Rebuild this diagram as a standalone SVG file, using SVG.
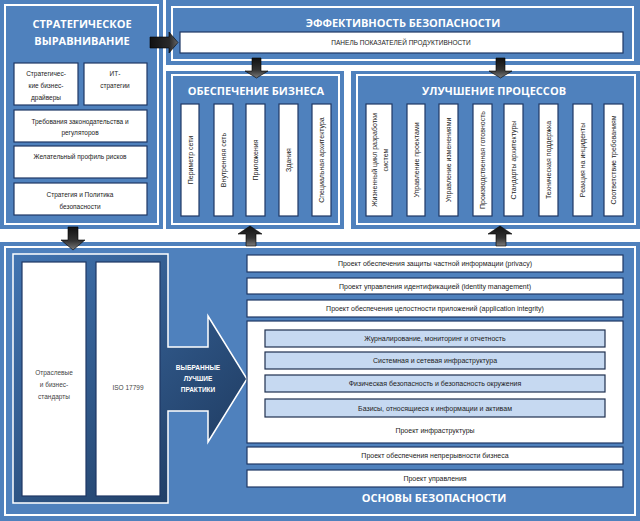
<svg xmlns="http://www.w3.org/2000/svg" width="640" height="521" viewBox="0 0 640 521">
<defs>
<linearGradient id="gArrow" x1="0" y1="0" x2="0" y2="1">
<stop offset="0" stop-color="#111"/><stop offset="0.6" stop-color="#333"/><stop offset="1" stop-color="#7a7a7a"/>
</linearGradient>
<linearGradient id="gArrowH" x1="0" y1="0" x2="1" y2="0">
<stop offset="0" stop-color="#111"/><stop offset="0.7" stop-color="#2a2a2a"/><stop offset="1" stop-color="#666"/>
</linearGradient>
<linearGradient id="gDark" x1="0" y1="0" x2="1" y2="1">
<stop offset="0" stop-color="#4275b2"/><stop offset="1" stop-color="#1b3558"/>
</linearGradient>
<style>
.panel{fill:#4f81bd;}
.inner{fill:none;stroke:#ffffff;stroke-width:2;}
.box{fill:#ffffff;stroke:#1f3864;stroke-width:1.2;}
.lbox{fill:#c6d9f1;stroke:#1f2f4f;stroke-width:1.2;}
.title{font-family:"Open Sans","Liberation Sans",sans-serif;font-weight:bold;font-size:11px;fill:#ffffff;text-anchor:middle;}
.t{font-family:"Liberation Sans","DejaVu Sans",sans-serif;font-size:6.5px;fill:#222;text-anchor:middle;}
.t7{font-family:"Liberation Sans","DejaVu Sans",sans-serif;font-size:7px;fill:#222;text-anchor:middle;}
.tw{font-family:"Liberation Sans","DejaVu Sans",sans-serif;font-size:6.5px;fill:#444;text-anchor:middle;}
.at{font-family:"Liberation Sans",sans-serif;font-weight:bold;font-size:6.5px;fill:#ffffff;text-anchor:middle;}
.arr{fill:url(#gArrow);stroke:#000;stroke-width:0.6;}
.arrh{fill:url(#gArrowH);stroke:#000;stroke-width:0.6;}
</style>
</defs>
<rect width="640" height="521" fill="#ffffff"/>

<g id="strategic">
<rect class="panel" x="0" y="0" width="163" height="229"/>
<rect class="inner" x="5" y="5" width="153" height="219"/>
<text class="title" x="82" y="28">СТРАТЕГИЧЕСКОЕ</text>
<text class="title" x="82" y="45">ВЫРАВНИВАНИЕ</text>
<rect class="box" x="14" y="63" width="64" height="42"/>
<text class="t" x="46" y="75.5">Стратегичес-</text>
<text class="t" x="46" y="87.5">кие бизнес-</text>
<text class="t" x="46" y="99.5">драйверы</text>
<rect class="box" x="84" y="63" width="63" height="42"/>
<text class="t" x="115" y="75.5">ИТ-</text>
<text class="t" x="115" y="87.5">стратегии</text>
<rect class="box" x="14" y="110" width="133" height="32"/>
<text class="t" x="80" y="123.5">Требования законодательства и</text>
<text class="t" x="80" y="134.5">регуляторов</text>
<rect class="box" x="14" y="146" width="133" height="32"/>
<text class="t" x="80" y="158.5">Желательный профиль рисков</text>
<rect class="box" x="14" y="183" width="133" height="32"/>
<text class="t" x="80" y="196.5">Стратегия и Политика</text>
<text class="t" x="80" y="208.5">безопасности</text>
</g>

<g id="effectiveness">
<rect class="panel" x="166" y="0" width="474" height="65"/>
<rect class="inner" x="172" y="7" width="461" height="53"/>
<text class="title" x="403" y="27">ЭФФЕКТИВНОСТЬ БЕЗОПАСНОСТИ</text>
<rect class="box" x="180" y="32" width="443" height="21"/>
<text class="t" x="401" y="45">ПАНЕЛЬ ПОКАЗАТЕЛЕЙ ПРОДУКТИВНОСТИ</text>
</g>

<g id="business">
<rect class="panel" x="166" y="71" width="178" height="158"/>
<rect class="inner" x="172" y="75" width="167" height="149"/>
<text class="title" x="256" y="95">ОБЕСПЕЧЕНИЕ БИЗНЕСА</text>
<rect class="box" x="181" y="104" width="18" height="112"/>
<text class="t7" transform="translate(192.5,160) rotate(-90)">Периметр сети</text>
<rect class="box" x="214" y="104" width="19" height="112"/>
<text class="t7" transform="translate(226,160) rotate(-90)">Внутренняя сеть</text>
<rect class="box" x="246" y="104" width="19" height="112"/>
<text class="t7" transform="translate(258,160) rotate(-90)">Приложения</text>
<rect class="box" x="279" y="104" width="19" height="112"/>
<text class="t7" transform="translate(291,160) rotate(-90)">Здания</text>
<rect class="box" x="312" y="104" width="19" height="112"/>
<text class="t7" transform="translate(324,160) rotate(-90)">Специальная архитектура</text>
</g>

<g id="process">
<rect class="panel" x="351" y="71" width="289" height="158"/>
<rect class="inner" x="357" y="75" width="278" height="149"/>
<text class="title" x="494" y="95">УЛУЧШЕНИЕ ПРОЦЕССОВ</text>
<rect class="box" x="366" y="104" width="26" height="112"/>
<text class="t7" transform="translate(377,160) rotate(-90)">Жизненный цикл разработки</text>
<text class="t7" transform="translate(388,160) rotate(-90)">систем</text>
<rect class="box" x="407" y="104" width="18" height="112"/>
<text class="t7" transform="translate(418.5,160) rotate(-90)">Управление проектами</text>
<rect class="box" x="439" y="104" width="19" height="112"/>
<text class="t7" transform="translate(451,160) rotate(-90)">Управление изменениями</text>
<rect class="box" x="473" y="104" width="19" height="112"/>
<text class="t7" transform="translate(485,160) rotate(-90)">Производственная готовность</text>
<rect class="box" x="504" y="104" width="19" height="112"/>
<text class="t7" transform="translate(516,160) rotate(-90)">Стандарты архитектуры</text>
<rect class="box" x="539" y="104" width="19" height="112"/>
<text class="t7" transform="translate(551,160) rotate(-90)">Техническая поддержка</text>
<rect class="box" x="573" y="104" width="19" height="112"/>
<text class="t7" transform="translate(585,160) rotate(-90)">Реакция на инциденты</text>
<rect class="box" x="604" y="104" width="19" height="112"/>
<text class="t7" transform="translate(616,160) rotate(-90)">Соответствие требованиям</text>
</g>

<g id="foundation">
<rect class="panel" x="0" y="242" width="640" height="279"/>
<rect class="inner" x="5" y="247" width="630" height="268"/>
<text class="title" x="434" y="502">ОСНОВЫ БЕЗОПАСНОСТИ</text>
</g>

<g id="best-practices">
<path d="M13,254 H168 V347 H208 V316 L247,379 L208,442 V411 H168 V503 H13 Z" fill="url(#gDark)" stroke="#ffffff" stroke-width="1.5"/>
<rect class="box" x="22" y="262" width="64" height="234"/>
<text class="tw" x="54" y="374.5">Отраслевые</text>
<text class="tw" x="54" y="386.5">и бизнес-</text>
<text class="tw" x="54" y="398.5">стандарты</text>
<rect class="box" x="96" y="262" width="64" height="234"/>
<text class="tw" x="128" y="389.5">ISO 17799</text>
<text class="at" x="198" y="369.5">ВЫБРАННЫЕ</text>
<text class="at" x="198" y="380.5">ЛУЧШИЕ</text>
<text class="at" x="198" y="391.5">ПРАКТИКИ</text>
</g>

<g id="projects">
<rect class="box" x="247" y="255" width="376" height="17"/>
<text class="t7" x="435" y="266">Проект обеспечения защиты частной информации (privacy)</text>
<rect class="box" x="247" y="278" width="376" height="16"/>
<text class="t7" x="435" y="288.5">Проект управления идентификацией (identity management)</text>
<rect class="box" x="247" y="300" width="376" height="17"/>
<text class="t7" x="435" y="311">Проект обеспечения целостности приложений (application integrity)</text>
<rect class="box" x="247" y="321" width="376" height="122"/>
<rect class="lbox" x="265" y="330" width="340" height="17"/>
<text class="t7" x="435" y="341">Журналирование, мониторинг и отчетность</text>
<rect class="lbox" x="265" y="352" width="340" height="17"/>
<text class="t7" x="435" y="363">Системная и сетевая инфраструктура</text>
<rect class="lbox" x="265" y="375" width="340" height="17"/>
<text class="t7" x="435" y="386">Физическая безопасность и безопасность окружения</text>
<rect class="lbox" x="265" y="399" width="340" height="18"/>
<text class="t7" x="435" y="410.5">Базисы, относящиеся к информации и активам</text>
<text class="t7" x="435" y="432.5">Проект инфраструктуры</text>
<rect class="box" x="247" y="447" width="376" height="17"/>
<text class="t7" x="435" y="458">Проект обеспечения непрерывности бизнеса</text>
<rect class="box" x="247" y="470" width="376" height="17"/>
<text class="t7" x="435" y="481">Проект управления</text>
</g>

<g id="connectors">
<path class="arrh" d="M150,37 H169 V32 L178,42.5 L169,53 V48 H150 Z"/>
<path class="arr" d="M252,58 H261 V71 H268 L256.5,78 L245,71 H252 Z"/>
<path class="arr" d="M496,58 H505 V71 H512 L500.5,78 L489,71 H496 Z"/>
<path class="arr" d="M250,226 L262,234 H256 V246 H246 V234 H238 Z"/>
<path class="arr" d="M500,226 L512,234 H506 V246 H496 V234 H488 Z"/>
<path class="arr" d="M68,227 H78 V240 H85 L73,250 L61,240 H68 Z"/>
</g>
</svg>
